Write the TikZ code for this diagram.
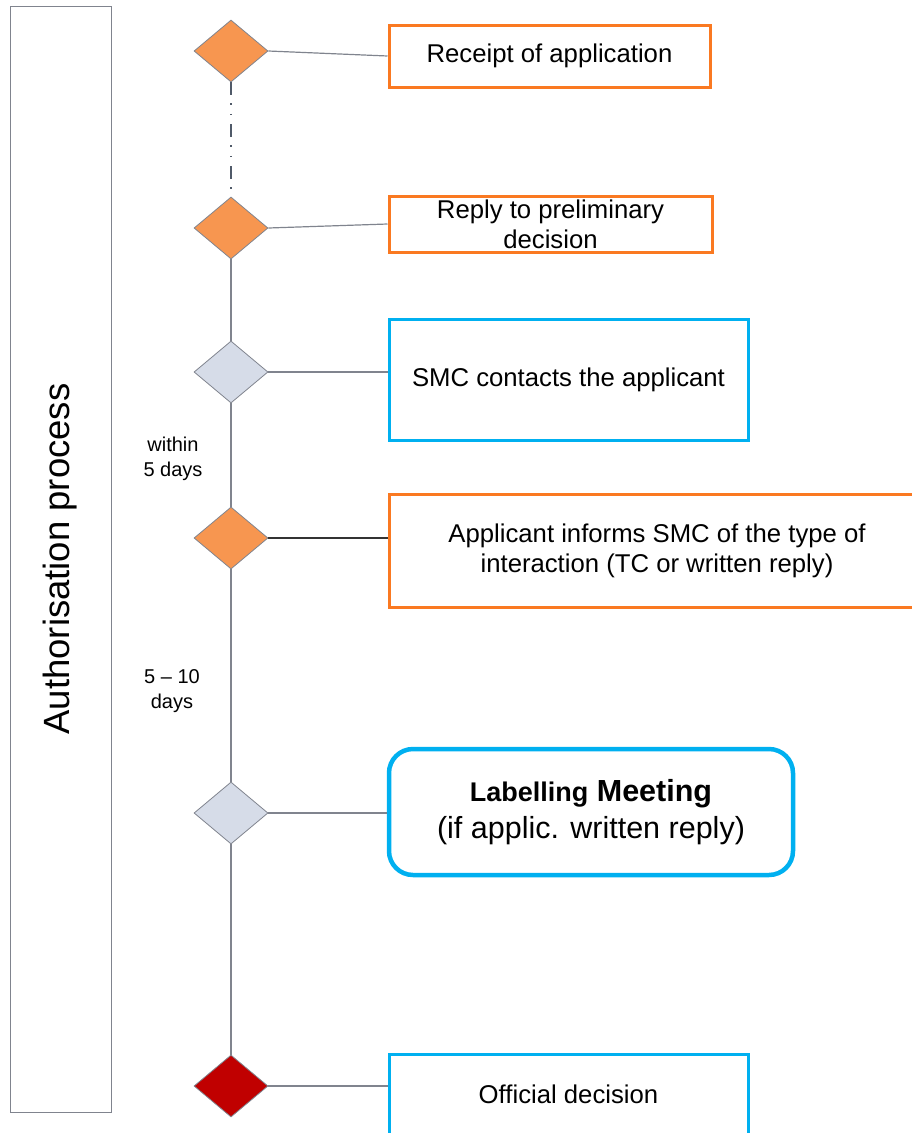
\documentclass[tikz,border=0pt]{standalone}
\usepackage{fontspec}
\setmainfont{Liberation Sans}
\usetikzlibrary{arrows.meta, positioning, shapes.geometric, calc}
\usepackage{xcolor}
\definecolor{morange}{RGB}{250,121,33}
\definecolor{mpeach}{RGB}{247,150,80}
\definecolor{mblue}{RGB}{0,176,240}
\definecolor{mgrey}{RGB}{214,220,232}
\definecolor{mred}{RGB}{192,0,0}
\definecolor{mline}{RGB}{128,132,142}
\definecolor{mdark}{RGB}{80,90,105}

\begin{document}
\begin{tikzpicture}[
  x=1pt, y=-1pt,
  milestone/.style={diamond,draw=mline,line width=0.8pt,minimum width=74pt,
               minimum height=62pt,inner sep=0pt},
  box/.style={rectangle,draw,line width=3pt,align=center,
              font=\fontsize{25.7}{30.2}\selectfont},
  days/.style={align=center,font=\fontsize{20}{24.5}\selectfont},
  link/.style={mline,line width=1.2pt}
]
\useasboundingbox (0,0) rectangle (912,1133);
\clip (0,0) rectangle (912,1133);

% Side bar
\node[draw=mline,line width=1pt,rotate=90,minimum width=1106pt,minimum height=101pt,
      font=\fontsize{36.5}{40}\selectfont] (proc) at (60.5,559) {Authorisation process};

% Milestones
\node[milestone,fill=mpeach] (D1) at (231,51)   {};
\node[milestone,fill=mpeach] (D2) at (231,228)  {};
\node[milestone,fill=mgrey]  (D3) at (231,372)  {};
\node[milestone,fill=mpeach] (D4) at (231,538)  {};
\node[milestone,fill=mgrey]  (D5) at (231,813)  {};
\node[milestone,fill=mred]   (D6) at (231,1086) {};

% Boxes
\node[box,draw=morange,minimum width=321pt,minimum height=62pt] (B1) at (549.5,56)
  {Receipt of application};
\node[box,draw=morange,minimum width=323pt,minimum height=56pt,inner sep=0pt] (B2) at (550.5,224)
  {Reply to preliminary\\decision};
\node[box,draw=mblue,minimum width=359pt,minimum height=121pt] (B3) at (568.5,379.5)
  {SMC contacts the applicant};
\node[box,draw=morange,minimum width=536pt,minimum height=113pt] (B4) at (657,550.5)
  {Applicant informs SMC of the type of\\interaction (TC or written reply)};
\node[box,draw=mblue,line width=4.5pt,rounded corners=24pt,minimum width=404pt,
      minimum height=126pt,font=\fontsize{30.5}{37}\selectfont] (B5) at (591,812)
  {\bfseries{\fontsize{27}{37}\selectfont Labelling} Meeting\\(if applic. written reply)};
\node[box,draw=mblue,minimum width=359pt,minimum height=84pt] (B6) at (568.5,1096)
  {\raisebox{3pt}{Official decision}};

% Time spans
\node[days] (t1) at (173,459) {within\\5 days};
\node[days] (t2) at (172,691) {5 \textendash\ 10\\days};

% Time line
\draw[mdark,line width=1.5pt,dash pattern=on 13pt off 8pt on 1.5pt off 9pt on 1.5pt off 9pt]
  (D1.south) -- (D2.north);
\draw[link] (D2.south) -- (D3.north);
\draw[link] (D3.south) -- (D4.north);
\draw[link] (D4.south) -- (D5.north);
\draw[link] (D5.south) -- (D6.north);

% Links to boxes
\draw[link] (D1.east) -- (B1.west);
\draw[link] (D2.east) -- (B2.west);
\draw[link] (D3.east) -- (D3.east -| B3.west);
\draw[link,black!80] (D4.east) -- (D4.east -| B4.west);
\draw[link] (D5.east) -- (D5.east -| B5.west);
\draw[link] (D6.east) -- (D6.east -| B6.west);
\end{tikzpicture}
\end{document}
